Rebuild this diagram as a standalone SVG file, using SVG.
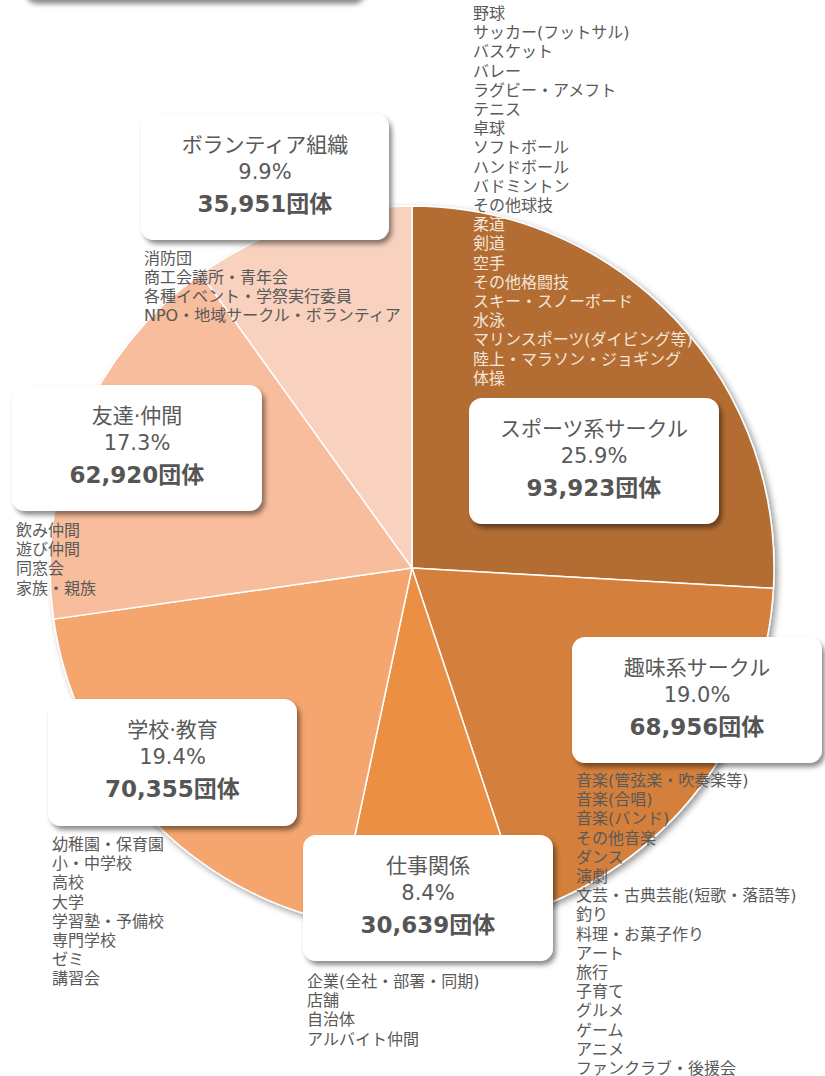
<svg xmlns="http://www.w3.org/2000/svg" width="825" height="1076" viewBox="0 0 825 1076">
<style>
.sl{stroke:#fff;stroke-width:1.5;stroke-linejoin:round}
.box{fill:#fff}
.t{font-family:"DejaVu Sans","Noto Sans CJK JP",sans-serif;fill:#595959;text-anchor:middle;font-size:21px}
.c{font-family:"DejaVu Sans","Noto Sans CJK JP",sans-serif;fill:#555;text-anchor:middle;font-size:23px;font-weight:bold}
.l{font-family:"DejaVu Sans","Noto Sans CJK JP",sans-serif;fill:#595959;font-size:16px}
.lw{fill:#F4E5D9}
</style>
<defs>
<filter id="sh" x="-10%" y="-10%" width="130%" height="140%">
<feDropShadow dx="3" dy="4" stdDeviation="2.5" flood-color="#000" flood-opacity="0.45"/>
</filter>
<filter id="psh" x="-10%" y="-10%" width="125%" height="125%">
<feDropShadow dx="3" dy="3" stdDeviation="3" flood-color="#000" flood-opacity="0.4"/>
</filter>
<filter id="blur" x="-10%" y="-10%" width="120%" height="130%">
<feGaussianBlur stdDeviation="2.5"/>
</filter>
</defs>
<rect width="825" height="1076" fill="#fff"/>

<g id="node-top">
<rect x="25" y="-124" width="341" height="128" rx="13" fill="#000" fill-opacity="0.45" filter="url(#blur)"/>
<rect class="box" x="22" y="-128" width="341" height="128" rx="13"/>
</g>

<g id="pie" filter="url(#psh)">
<path class="sl" fill="#B36D32" d="M412,568 L412,206 A362,362 0 0,1 773.43,588.27 Z"/>
<path class="sl" fill="#D47F3A" d="M412,568 L773.43,588.27 A362,362 0 0,1 525.97,911.59 Z"/>
<path class="sl" fill="#EB8F42" d="M412,568 L525.97,911.59 A362,362 0 0,1 336.43,922.03 Z"/>
<path class="sl" fill="#F5A56E" d="M412,568 L336.43,922.03 A362,362 0 0,1 53.63,619.13 Z"/>
<path class="sl" fill="#F7BD9D" d="M412,568 L53.63,619.13 A362,362 0 0,1 200.82,273.98 Z"/>
<path class="sl" fill="#F8D2BF" d="M412,568 L200.82,273.98 A362,362 0 0,1 412,206 Z"/>
</g>

<g id="node-sports">
<text class="l" x="473">
<tspan x="473" y="19">野球</tspan>
<tspan x="473" y="38.2">サッカー(フットサル)</tspan>
<tspan x="473" y="57.4">バスケット</tspan>
<tspan x="473" y="76.6">バレー</tspan>
<tspan x="473" y="95.8">ラグビー・アメフト</tspan>
<tspan x="473" y="115">テニス</tspan>
<tspan x="473" y="134.2">卓球</tspan>
<tspan x="473" y="153.4">ソフトボール</tspan>
<tspan x="473" y="172.6">ハンドボール</tspan>
<tspan x="473" y="191.8">バドミントン</tspan>
<tspan x="473" y="211">その他球技</tspan>
</text>
<text class="l lw" x="473">
<tspan x="473" y="230.2">柔道</tspan>
<tspan x="473" y="249.4">剣道</tspan>
<tspan x="473" y="268.6">空手</tspan>
<tspan x="473" y="287.8">その他格闘技</tspan>
<tspan x="473" y="307">スキー・スノーボード</tspan>
<tspan x="473" y="326.2">水泳</tspan>
<tspan x="473" y="345.4">マリンスポーツ(ダイビング等)</tspan>
<tspan x="473" y="364.6">陸上・マラソン・ジョギング</tspan>
<tspan x="473" y="383.8">体操</tspan>
</text>
<rect class="box" x="469" y="398" width="250" height="126" rx="13" filter="url(#sh)"/>
<text class="t" x="594" y="436">スポーツ系サークル</text>
<text class="t" x="594" y="463">25.9%</text>
<text class="c" x="594" y="496">93,923団体</text>
</g>

<g id="node-hobby">
<rect class="box" x="572" y="637" width="250" height="126" rx="13" filter="url(#sh)"/>
<text class="t" x="697" y="675">趣味系サークル</text>
<text class="t" x="697" y="702">19.0%</text>
<text class="c" x="697" y="735">68,956団体</text>
<text class="l">
<tspan x="576" y="786">音楽(管弦楽・吹奏楽等)</tspan>
<tspan x="576" y="805.2">音楽(合唱)</tspan>
<tspan x="576" y="824.4">音楽(バンド)</tspan>
<tspan x="576" y="843.6">その他音楽</tspan>
<tspan x="576" y="862.8">ダンス</tspan>
<tspan x="576" y="882">演劇</tspan>
<tspan x="576" y="901.2">文芸・古典芸能(短歌・落語等)</tspan>
<tspan x="576" y="920.4">釣り</tspan>
<tspan x="576" y="939.6">料理・お菓子作り</tspan>
<tspan x="576" y="958.8">アート</tspan>
<tspan x="576" y="978">旅行</tspan>
<tspan x="576" y="997.2">子育て</tspan>
<tspan x="576" y="1016.4">グルメ</tspan>
<tspan x="576" y="1035.6">ゲーム</tspan>
<tspan x="576" y="1054.8">アニメ</tspan>
<tspan x="576" y="1074">ファンクラブ・後援会</tspan>
</text>
</g>

<g id="node-work">
<rect class="box" x="303" y="835" width="250" height="126" rx="13" filter="url(#sh)"/>
<text class="t" x="428" y="873">仕事関係</text>
<text class="t" x="428" y="900">8.4%</text>
<text class="c" x="428" y="933">30,639団体</text>
<text class="l">
<tspan x="307" y="987">企業(全社・部署・同期)</tspan>
<tspan x="307" y="1006.2">店舗</tspan>
<tspan x="307" y="1025.4">自治体</tspan>
<tspan x="307" y="1044.6">アルバイト仲間</tspan>
</text>
</g>

<g id="node-school">
<rect class="box" x="48" y="699" width="249" height="127" rx="13" filter="url(#sh)"/>
<text class="t" x="172.5" y="737">学校·教育</text>
<text class="t" x="172.5" y="764">19.4%</text>
<text class="c" x="172.5" y="797">70,355団体</text>
<text class="l">
<tspan x="52" y="850">幼稚園・保育園</tspan>
<tspan x="52" y="869.2">小・中学校</tspan>
<tspan x="52" y="888.4">高校</tspan>
<tspan x="52" y="907.6">大学</tspan>
<tspan x="52" y="926.8">学習塾・予備校</tspan>
<tspan x="52" y="946">専門学校</tspan>
<tspan x="52" y="965.2">ゼミ</tspan>
<tspan x="52" y="984.4">講習会</tspan>
</text>
</g>

<g id="node-friends">
<rect class="box" x="12" y="385" width="250" height="126" rx="13" filter="url(#sh)"/>
<text class="t" x="137" y="423">友達·仲間</text>
<text class="t" x="137" y="450">17.3%</text>
<text class="c" x="137" y="483">62,920団体</text>
<text class="l">
<tspan x="16" y="536">飲み仲間</tspan>
<tspan x="16" y="555.2">遊び仲間</tspan>
<tspan x="16" y="574.4">同窓会</tspan>
<tspan x="16" y="593.6">家族・親族</tspan>
</text>
</g>

<g id="node-volunteer">
<rect class="box" x="141" y="114" width="248" height="126" rx="13" filter="url(#sh)"/>
<text class="t" x="265" y="152">ボランティア組織</text>
<text class="t" x="265" y="179">9.9%</text>
<text class="c" x="265" y="212">35,951団体</text>
<text class="l">
<tspan x="144" y="264">消防団</tspan>
<tspan x="144" y="283">商工会議所・青年会</tspan>
<tspan x="144" y="302">各種イベント・学祭実行委員</tspan>
<tspan x="144" y="321">NPO・地域サークル・ボランティア</tspan>
</text>
</g>
</svg>
